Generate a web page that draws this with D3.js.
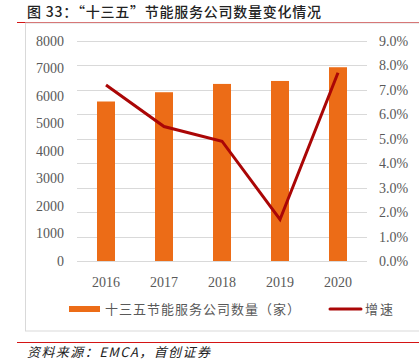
<!DOCTYPE html>
<html>
<head>
<meta charset="utf-8">
<script src="https://cdn.jsdelivr.net/npm/d3@7"></script>
<style>
  body { margin: 0; background: #fff; }
  svg { display: block; }
</style>
</head>
<body>
<div id="chart"></div>
<script>
// data
var years = ['2016', '2017', '2018', '2019', '2020'];
var companies = [5800, 6137, 6439, 6547, 7046];
var growth = [7.2, 5.5, 4.9, 1.7, 7.7];
var leftTicks = [0, 1000, 2000, 3000, 4000, 5000, 6000, 7000, 8000];
var rightTicks = [0, 1, 2, 3, 4, 5, 6, 7, 8, 9];
var title = '图 33：“十三五”节能服务公司数量变化情况';
var barName = '十三五节能服务公司数量（家）';
var lineName = '增速';
var source = '资料来源：EMCA，首创证券';

var W = 419, H = 361;
var serif = '"Liberation Serif", "Times New Roman", serif';
var cjk = '"Noto Sans CJK SC", sans-serif';

var svg = d3.select('#chart').append('svg')
  .attr('width', W).attr('height', H);

// title + rules
svg.append('text')
  .attr('x', 27).attr('y', 17)
  .attr('textLength', 294).attr('lengthAdjust', 'spacing')
  .style('font-family', cjk).style('font-size', '14px')
  .style('font-weight', 500).style('fill', '#222')
  .text(title);

svg.append('line')
  .attr('x1', 17).attr('x2', W).attr('y1', 22.5).attr('y2', 22.5)
  .style('stroke', '#d41414').style('stroke-width', 1.2);

// chart frame
svg.append('rect')
  .attr('x', 25.5).attr('y', 23).attr('width', W).attr('height', 308)
  .style('fill', 'none').style('stroke', '#d9d9d9');

var plot = { left: 77, right: 367, top: 41, bottom: 261 };

var x = d3.scaleBand().domain(years)
  .range([plot.left, plot.right]);
var y = d3.scaleLinear().domain([0, 8000])
  .range([plot.bottom, plot.top]);
var y2 = d3.scaleLinear().domain([0, 9])
  .range([plot.bottom, plot.top]);

// grid lines
svg.append('g')
  .selectAll('line')
  .data(rightTicks)
  .join('line')
  .attr('x1', plot.left).attr('x2', plot.right)
  .attr('y1', d => Math.round(y2(d)) + 0.5)
  .attr('y2', d => Math.round(y2(d)) + 0.5)
  .style('stroke', '#d9d9d9');

// left axis
var leftAxis = svg.append('g')
  .attr('transform', 'translate(' + (plot.left - 13) + ',0)')
  .call(d3.axisLeft(y).tickValues(leftTicks).tickSize(0).tickPadding(0)
    .tickFormat(d3.format('d')));
leftAxis.select('.domain').remove();

// right axis
var rightAxis = svg.append('g')
  .attr('transform', 'translate(' + (plot.right + 12) + ',0)')
  .call(d3.axisRight(y2).tickValues(rightTicks).tickSize(0).tickPadding(0)
    .tickFormat(d => d.toFixed(1) + '%'));
rightAxis.select('.domain').remove();

// bottom axis
var bottomAxis = svg.append('g')
  .attr('transform', 'translate(0,' + (plot.bottom + 16) + ')')
  .call(d3.axisBottom(x).tickSize(0).tickPadding(0));
bottomAxis.select('.domain').remove();

svg.selectAll('.tick text')
  .style('font-family', serif).style('font-size', '14px')
  .style('fill', '#595959');

// bars
var bw = 18;
svg.append('g')
  .selectAll('rect')
  .data(companies)
  .join('rect')
  .attr('x', (d, i) => x(years[i]) + x.bandwidth() / 2 - bw / 2)
  .attr('y', d => y(d))
  .attr('width', bw)
  .attr('height', d => plot.bottom - y(d))
  .style('fill', '#ec6c17');

// growth line
var line = d3.line()
  .x((d, i) => x(years[i]) + x.bandwidth() / 2)
  .y(d => y2(d));

svg.append('path')
  .datum(growth)
  .attr('d', line)
  .style('fill', 'none')
  .style('stroke', '#aa0606')
  .style('stroke-width', 3);

// legend
var ly = 309;
svg.append('rect')
  .attr('x', 69).attr('y', ly - 3).attr('width', 31).attr('height', 6)
  .style('fill', '#ec6c17');
svg.append('text')
  .attr('x', 105).attr('y', ly + 5)
  .attr('textLength', 195).attr('lengthAdjust', 'spacing')
  .style('font-family', cjk).style('font-size', '13px')
  .style('fill', '#595959')
  .text(barName);
svg.append('line')
  .attr('x1', 330).attr('x2', 361).attr('y1', ly).attr('y2', ly)
  .style('stroke', '#aa0606').style('stroke-width', 3)
  .style('stroke-linecap', 'round');
svg.append('text')
  .attr('x', 365).attr('y', ly + 5)
  .attr('textLength', 28).attr('lengthAdjust', 'spacing')
  .style('font-family', cjk).style('font-size', '13px')
  .style('fill', '#595959')
  .text(lineName);

// bottom rule + source
svg.append('line')
  .attr('x1', 17).attr('x2', W).attr('y1', 342.5).attr('y2', 342.5)
  .style('stroke', '#d41414').style('stroke-width', 1.2);

svg.append('text')
  .attr('x', 27).attr('y', 357)
  .attr('textLength', 183).attr('lengthAdjust', 'spacing')
  .style('font-family', cjk).style('font-size', '13px')
  .style('font-style', 'italic').style('fill', '#222')
  .text(source);
</script>
</body>
</html>
